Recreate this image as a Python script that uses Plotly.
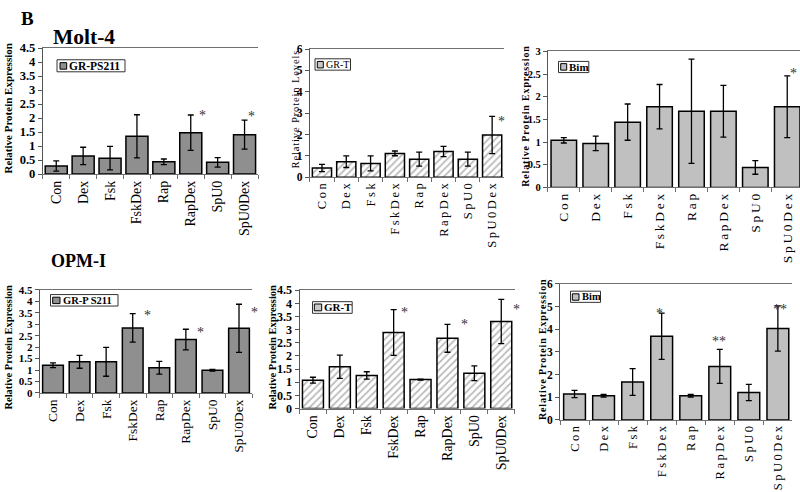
import plotly.graph_objects as go

cats = ["Con", "Dex", "Fsk", "FskDex", "Rap", "RapDex", "SpU0", "SpU0Dex"]

# Molt-4
molt_grps = [0.29, 0.65, 0.57, 1.35, 0.44, 1.48, 0.42, 1.41]
molt_grps_err = [0.18, 0.31, 0.42, 0.77, 0.10, 0.63, 0.17, 0.52]
molt_grt = [0.44, 0.73, 0.65, 1.12, 0.85, 1.21, 0.85, 1.98]
molt_grt_err = [0.17, 0.27, 0.35, 0.11, 0.33, 0.24, 0.33, 0.87]
molt_bim = [1.04, 0.97, 1.44, 1.78, 1.68, 1.68, 0.44, 1.78]
molt_bim_err = [0.06, 0.16, 0.40, 0.49, 1.15, 0.57, 0.15, 0.68]

# OPM-I
opm_grps = [1.21, 1.36, 1.36, 2.84, 1.10, 2.33, 0.99, 2.82]
opm_grps_err = [0.10, 0.28, 0.63, 0.62, 0.28, 0.45, 0.04, 1.05]
opm_grt = [1.08, 1.59, 1.26, 2.89, 1.10, 2.67, 1.34, 3.31]
opm_grt_err = [0.11, 0.44, 0.14, 0.87, 0.02, 0.53, 0.28, 0.84]
opm_bim = [1.14, 1.07, 1.67, 3.69, 1.07, 2.36, 1.21, 4.03]
opm_bim_err = [0.16, 0.06, 0.59, 1.02, 0.06, 0.75, 0.36, 1.00]

# significance marks: (category position, height, text)
molt_grps_stars = [(5.45, 2.19, "*"), (7.25, 2.15, "*")]
molt_grt_stars = [(7.37, 2.75, "*")]
molt_bim_stars = [(7.19, 2.58, "*")]
opm_grps_stars = [(3.54, 3.49, "*"), (5.54, 2.75, "*"), (7.60, 3.63, "*")]
opm_grt_stars = [(3.40, 3.78, "*"), (5.63, 3.32, "*"), (7.58, 3.88, "*")]
opm_bim_stars = [(2.93, 4.81, "*"), (4.97, 3.61, "**"), (7.06, 5.0, "**")]

W, H = 800, 492
SERIF = "Liberation Serif"
THIN = "\u2009"
HAIR = "\u200a"


def fx(p):
    return p / W


def fy(p):
    return 1 - p / H


def spaced(s, sep):
    return sep.join(list(s))


DARK = "#8f8f8f"
LIGHT = "#c0c0c0"

panels = [
    dict(y=molt_grps, err=molt_grps_err, stars=molt_grps_stars, fill=DARK, hatch=False,
         x0=42.8, x1=258.0, top=42.3, bot=172.0, ymax=4.5, dtick=0.5, xr=7.5,
         xfont=14, xsep="", yfont=12.5, width=0.82,
         ytitle="Relative Protein Expression", ytx=8.5, yty=105, ytfont=11, ytbold=True, ytsep="",
         leg="GR-PS211", box=(57, 54.3, 125, 66.7), sw=(60, 57.3, 66.7, 64), legfont=11.5, legbold=True),
    dict(y=molt_grt, err=molt_grt_err, stars=molt_grt_stars, fill="white", hatch=True,
         x0=309.8, x1=504.3, top=43.3, bot=175.3, ymax=6, dtick=1, xr=7.5,
         xfont=12.5, xsep=THIN, yfont=11.5, width=0.79,
         ytitle="Relative Protein Levels", ytx=295.5, yty=106, ytfont=10.5, ytbold=False, ytsep=HAIR,
         leg="GR-T", box=(315, 53.3, 350.5, 65), sw=(317.3, 56, 323.3, 62.7), legfont=10, legbold=False),
    dict(y=molt_bim, err=molt_bim_err, stars=molt_bim_stars, fill=LIGHT, hatch=False,
         x0=547.85, x1=800, top=45.7, bot=185.7, ymax=3, dtick=0.5, xr=7.40,
         xfont=13.5, xsep=THIN, yfont=10.5, width=0.80,
         ytitle="Relative Protein Expression", ytx=526, yty=113, ytfont=10, ytbold=True, ytsep=HAIR,
         leg="Bim", box=(558.5, 56, 588.8, 67.5), sw=(560.7, 58.3, 566.7, 65), legfont=11, legbold=True),
    dict(y=opm_grps, err=opm_grps_err, stars=opm_grps_stars, fill=DARK, hatch=False,
         x0=39.7, x1=252.3, top=291.1, bot=397.3, ymax=4.5, dtick=0.5, xr=7.5,
         xfont=13.5, xsep="", yfont=11, width=0.78,
         ytitle="Relative Protein Expression", ytx=8.5, yty=350, ytfont=10.5, ytbold=True, ytsep="",
         leg="GR-P S211", box=(50.5, 296, 118, 307.8), sw=(52.7, 298.7, 60, 305.3), legfont=10.5, legbold=True),
    dict(y=opm_grt, err=opm_grt_err, stars=opm_grt_stars, fill="white", hatch=True,
         x0=299.5, x1=514.7, top=291.5, bot=413.3, ymax=4.5, dtick=0.5, xr=7.5,
         xfont=14, xsep="", yfont=12, width=0.78,
         ytitle="Relative Protein Expression", ytx=272.5, yty=350, ytfont=10.5, ytbold=True, ytsep="",
         leg="GR-T", box=(312.5, 303.3, 352.2, 315.3), sw=(314.3, 305.7, 321.7, 312.7), legfont=11, legbold=True),
    dict(y=opm_bim, err=opm_bim_err, stars=opm_bim_stars, fill=LIGHT, hatch=False,
         x0=560.0, x1=792.4, top=285.0, bot=425.0, ymax=6, dtick=1, xr=7.5,
         xfont=12.5, xsep=THIN, yfont=11.5, width=0.75,
         ytitle="Relative Protein Expression", ytx=543, yty=353, ytfont=10, ytbold=True, ytsep=HAIR,
         leg="Bim", box=(570.5, 292.5, 600.5, 304), sw=(572.3, 295.2, 579, 301.8), legfont=10.5, legbold=True),
]

fig = go.Figure()
annotations = []
shapes = []

for i, p in enumerate(panels, start=1):
    xa = "x" if i == 1 else f"x{i}"
    ya = "y" if i == 1 else f"y{i}"

    marker = dict(color=p["fill"], line=dict(color="black", width=1.5))
    if p["hatch"]:
        marker["pattern"] = dict(shape="/", fgcolor="#7a7a7a", bgcolor="white", size=5, solidity=0.35)

    fig.add_trace(go.Bar(
        x=cats, y=p["y"], width=p["width"], marker=marker,
        error_y=dict(type="data", array=p["err"], visible=True, color="black", thickness=1.3, width=3),
        xaxis=xa, yaxis=ya, showlegend=False, hoverinfo="skip",
    ))

    axis_line = "#6f6f6f"
    fig.layout[f"xaxis{'' if i == 1 else i}"] = dict(
        domain=[fx(p["x0"]), fx(p["x1"])], anchor=ya,
        range=[-0.5, p["xr"]], type="category",
        tickvals=cats, ticktext=[spaced(c, p["xsep"]) if p["xsep"] else c for c in cats],
        tickangle=-90, tickfont=dict(family=SERIF, size=p["xfont"], color="black"),
        showline=True, linecolor=axis_line, linewidth=1, mirror=True,
        ticks="outside", tickson="boundaries", ticklen=4, tickcolor=axis_line,
        showgrid=False, zeroline=False, fixedrange=True,
    )
    fig.layout[f"yaxis{'' if i == 1 else i}"] = dict(
        domain=[fy(p["bot"]), fy(p["top"])], anchor=xa,
        range=[0, p["ymax"]], dtick=p["dtick"],
        tickfont=dict(family=SERIF, size=p["yfont"], color="black", weight="bold"),
        showline=True, linecolor="#555555", linewidth=1,
        ticks="outside", ticklen=4, tickcolor="#555555",
        showgrid=False, zeroline=False, fixedrange=True,
    )

    # significance marks, anchored on their bar and nudged sideways in pixels
    unit = (p["x1"] - p["x0"]) / (p["xr"] + 0.5)
    for sx, sy, st in p["stars"]:
        base = min(max(round(sx), 0), len(cats) - 1)
        annotations.append(dict(
            x=base, y=sy, xref=xa, yref=ya, text=st, showarrow=False,
            xshift=(sx - base) * unit, yshift=-3,
            font=dict(family=SERIF, size=14, color="#333333"),
        ))

    # y axis title
    title = spaced(p["ytitle"], p["ytsep"]) if p["ytsep"] else p["ytitle"]
    annotations.append(dict(
        x=fx(p["ytx"]), y=fy(p["yty"]), xref="paper", yref="paper", text=title,
        textangle=-90, showarrow=False, xanchor="center", yanchor="middle",
        font=dict(family=SERIF, size=p["ytfont"], color="black",
                  weight="bold" if p["ytbold"] else "normal"),
    ))

    # legend box
    bx0, by0, bx1, by1 = p["box"]
    shapes.append(dict(type="rect", xref="paper", yref="paper",
                       x0=fx(bx0), x1=fx(bx1), y0=fy(by1), y1=fy(by0),
                       line=dict(color="#333333", width=1), fillcolor="white", layer="above"))
    sx0, sy0, sx1, sy1 = p["sw"]
    swfill = "#c8c8c8" if p["hatch"] else p["fill"]
    shapes.append(dict(type="rect", xref="paper", yref="paper",
                       x0=fx(sx0), x1=fx(sx1), y0=fy(sy1), y1=fy(sy0),
                       line=dict(color="black", width=1), fillcolor=swfill, layer="above"))
    annotations.append(dict(
        x=fx(sx1 + 0.5), y=fy((by0 + by1) / 2), xref="paper", yref="paper", text=p["leg"],
        showarrow=False, xanchor="left", yanchor="middle",
        font=dict(family=SERIF, size=p["legfont"], color="black",
                  weight="bold" if p["legbold"] else "normal"),
    ))

# panel headings
annotations.append(dict(x=fx(27.5), y=fy(11.5), xref="paper", yref="paper", text="B",
                        showarrow=False, xanchor="center", yanchor="middle",
                        font=dict(family=SERIF, size=19, color="black", weight="bold")))
annotations.append(dict(x=fx(84), y=fy(31), xref="paper", yref="paper", text="Molt-4",
                        showarrow=False, xanchor="center", yanchor="middle",
                        font=dict(family=SERIF, size=21.5, color="black", weight="bold")))
annotations.append(dict(x=fx(78.5), y=fy(261.5), xref="paper", yref="paper", text="OPM-I",
                        showarrow=False, xanchor="center", yanchor="middle",
                        font=dict(family=SERIF, size=18, color="black", weight="bold")))

fig.update_layout(
    width=W, height=H, margin=dict(l=0, r=0, t=0, b=0),
    paper_bgcolor="white", plot_bgcolor="white",
    showlegend=False, annotations=annotations, shapes=shapes,
    font=dict(family=SERIF, color="black"),
)

# page body margin would push the 800x492 figure off the window
fig.write_html("out.html", config={"displayModeBar": False},
               post_script="document.body.style.margin = '0';")
